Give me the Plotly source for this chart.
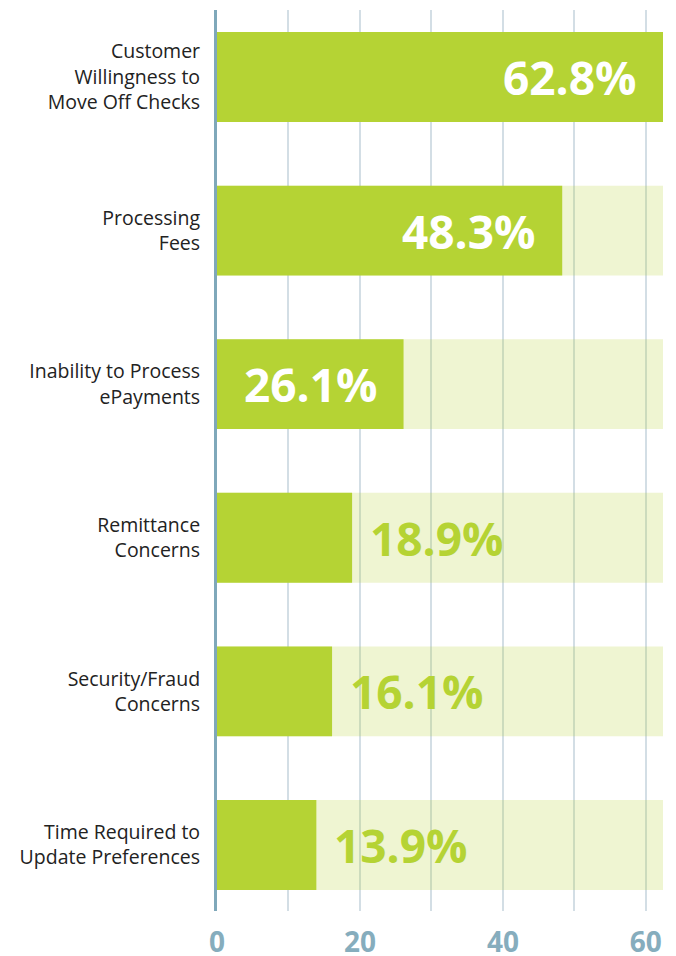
import plotly.graph_objects as go

categories = [
    "Customer<br>Willingness to<br>Move Off Checks",
    "Processing<br>Fees",
    "Inability to Process<br>ePayments",
    "Remittance<br>Concerns",
    "Security/Fraud<br>Concerns",
    "Time Required to<br>Update Preferences",
]
values = [62.8, 48.3, 26.1, 18.9, 16.1, 13.9]
track_max = 62.4
x_ticks = [0, 20, 40, 60]

GREEN = "#b5d334"
AXIS = "#7fa8ba"
TICK = "#86adbd"
GRID = "#d3dee5"

fig = go.Figure()
fig.add_trace(go.Bar(
    y=categories, x=[track_max] * len(categories), orientation="h",
    marker=dict(color="rgba(181,211,52,0.22)", line=dict(width=0)),
    width=0.585, hoverinfo="skip", showlegend=False,
))
fig.add_trace(go.Bar(
    y=categories, x=values, orientation="h",
    marker=dict(color=GREEN, line=dict(width=0)),
    width=0.585, showlegend=False,
))
fig.update_layout(barmode="overlay")

for cat, v in zip(categories, values):
    inside = v > 20
    fig.add_annotation(
        x=min(v, track_max) if inside else v, y=cat, xref="x", yref="y",
        text=f"{v:.1f}%", showarrow=False,
        xanchor="right" if inside else "left",
        xshift=-25 if inside else 16, yshift=0,
        font=dict(family="Open Sans", size=46, color="white" if inside else GREEN, weight="bold"),
    )

fig.update_xaxes(
    range=[0, track_max], tickvals=x_ticks, ticktext=[str(t) for t in x_ticks],
    showgrid=True, gridcolor=GRID, gridwidth=2,
    minor=dict(dtick=10, tick0=0, showgrid=True, gridcolor=GRID, gridwidth=2),
    zeroline=False, showline=False, ticks="", ticklabelstandoff=12,
    tickfont=dict(family="Open Sans", size=28, color=TICK, weight="bold"),
    fixedrange=True, automargin=False,
)
fig.update_yaxes(
    autorange=False, range=[5.43, -0.436],
    showgrid=False, zeroline=False,
    showline=True, linecolor=AXIS, linewidth=3,
    ticks="", ticklabelstandoff=10, automargin=False,
    tickfont=dict(family="Open Sans", size=19.5, color="#222222"),
)
fig.update_layout(
    width=668, height=948,
    margin=dict(l=209, r=13, t=2, b=45),
    plot_bgcolor="white", paper_bgcolor="white",
    font=dict(family="Open Sans"),
)
fig.write_html("out.html")
